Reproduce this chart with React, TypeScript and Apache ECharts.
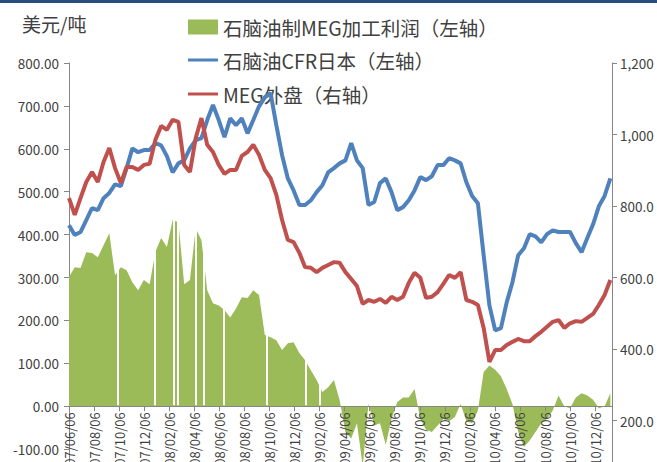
import React, { useEffect, useRef } from "react";
import * as echarts from "echarts";

// ---- Data ----
const START_DATE = "2007-06-06";
const SAMPLE_STEP_DAYS = 14; // one sample every two weeks, starting at START_DATE

const tickLabels = [
  "2007/06/06", "2007/08/06", "2007/10/06", "2007/12/06",
  "2008/02/06", "2008/04/06", "2008/06/06", "2008/08/06", "2008/10/06", "2008/12/06",
  "2009/02/06", "2009/04/06", "2009/06/06", "2009/08/06", "2009/10/06", "2009/12/06",
  "2010/02/06", "2010/04/06", "2010/06/06", "2010/08/06", "2010/10/06", "2010/12/06",
];

// 石脑油CFR日本（左轴） USD/t
const naphthaCFR = [
  422, 399, 406, 434, 462, 457, 485, 497, 517, 513,
  555, 601, 592, 597, 597, 613, 608, 583, 545, 566,
  573, 601, 620, 625, 667, 702, 667, 627, 671, 655,
  671, 636, 667, 699, 720, 730, 655, 585, 531, 503,
  469, 469, 480, 499, 515, 545, 555, 566, 573, 613,
  573, 555, 469, 476, 520, 531, 499, 457, 464, 480,
  503, 534, 527, 536, 562, 562, 578, 573, 566, 522,
  490, 473, 352, 235, 177, 182, 242, 289, 352, 368,
  401, 396, 382, 401, 410, 406, 406, 406, 380, 359,
  392, 424, 466, 490, 531,
];

// MEG外盘（右轴） USD/t
const megPrice = [
  822, 775, 822, 867, 895, 867, 923, 962, 906, 864,
  909, 909, 901, 915, 918, 985, 1024, 1013, 1041, 1035,
  915, 895, 990, 1046, 971, 951, 915, 890, 901, 901,
  940, 951, 971, 943, 901, 878, 831, 761, 705, 699,
  669, 629, 627, 615, 627, 635, 643, 641, 615, 596,
  576, 526, 537, 532, 540, 529, 546, 537, 546, 585,
  613, 599, 543, 546, 559, 582, 607, 599, 615, 537,
  532, 523, 459, 364, 397, 397, 411, 420, 428, 422,
  422, 436, 448, 462, 476, 481, 459, 472, 478, 476,
  487, 498, 523, 551, 593,
];

// 石脑油制MEG加工利润（左轴） USD/t
const megMargin = [
  301, 324, 322, 359, 357, 347, 375, 403, 305, 324,
  317, 289, 270, 294, 284, 360, 392, 371, 434, 429,
  284, 294, 415, 387, 270, 240, 235, 224, 207, 228,
  254, 252, 270, 259, 166, 161, 154, 131, 147, 149,
  124, 107, 84, 61, 33, 44, 61, 14, -60, -75,
  -40, -140, 5, -45, -40, -90, -30, 10, 20, 20,
  40, -30, -55, -60, -45, -30, -35, -25, 5, -35,
  -40, -10, 80, 95, 85, 70, 40, 5, -60, -95,
  -80, -60, -40, -30, -10, 25, 0, -5, 20, 30,
  25, 15, -5, 0, 30,
];

// days with no margin value (white gaps in the green area)
const marginGapDates = [
  "2007-10-03", "2008-01-01", "2008-02-15", "2008-02-25", "2008-04-08",
  "2008-04-29", "2008-06-17", "2008-09-28", "2009-01-01", "2009-02-05",
];

const rightAxisLabels: Record<number, string> = {
  200: "200.0", 400: "400.0", 600: "600.0", 800: "800.0", 1000: "1,000", 1200: "1,200",
};

const seriesNames = ["石脑油制MEG加工利润（左轴）", "石脑油CFR日本（左轴）", "MEG外盘（右轴）"];

// ---- helpers ----
const DAY_MS = 86400000;
const toUTC = (s: string) => {
  const [y, m, d] = s.replace(/\//g, "-").split("-").map(Number);
  return Date.UTC(y, m - 1, d);
};
const dayOf = (s: string) => Math.round((toUTC(s) - toUTC(START_DATE)) / DAY_MS);
const TICK_INTERVAL = dayOf(tickLabels[tickLabels.length - 1]) / (tickLabels.length - 1);
const X_MAX = 1320;

const LEFT_MIN = -200;
const LEFT_MAX = 800;
const GRID_TOP = 63;
const GRID_HEIGHT = 429;
// the date axis sits on the left axis' zero line
const X_AXIS_OFFSET = -(GRID_HEIGHT * (0 - LEFT_MIN)) / (LEFT_MAX - LEFT_MIN);

const FONT = "'Noto Sans CJK SC', 'Noto Sans', sans-serif";
const TEXT = "#404040";
const AXIS = "#868686";

export default function App() {
  const ref = useRef<HTMLDivElement>(null);
  useEffect(() => {
    if (!ref.current) return;
    const chart = echarts.init(ref.current, null, { renderer: "svg" });
    const pts = (arr: number[]) => arr.map((v, i) => [i * SAMPLE_STEP_DAYS, v]);
    const legendBase = {
      orient: "vertical" as const,
      left: 188,
      padding: 0,
      itemWidth: 30,
      icon: "rect",
      selectedMode: false,
      textStyle: { fontSize: 19.5, color: TEXT, fontFamily: FONT, lineHeight: 20 },
    };
    chart.setOption({
      animation: false,
      backgroundColor: "#ffffff",
      textStyle: { fontFamily: FONT },
      graphic: [
        { type: "rect", left: 0, top: 0, shape: { width: 657, height: 3 }, style: { fill: "#2B4C7E" } },
        {
          type: "text", left: 22, top: 14,
          style: { text: "美元/吨", fontSize: 19, fill: TEXT, fontFamily: FONT },
        },
      ],
      legend: [
        { ...legendBase, top: 17, itemHeight: 15, data: [seriesNames[0]] },
        { ...legendBase, top: 50, itemHeight: 3, data: [seriesNames[1]] },
        { ...legendBase, top: 84, itemHeight: 3, data: [seriesNames[2]] },
      ],
      grid: {
        left: 69, right: 45, top: GRID_TOP, height: GRID_HEIGHT,
        containLabel: false, outerBoundsMode: "none",
      },
      xAxis: {
        type: "value",
        position: "bottom",
        offset: X_AXIS_OFFSET,
        z: 20,
        min: 0,
        max: X_MAX,
        interval: TICK_INTERVAL,
        splitLine: { show: false },
        axisLine: { show: true, onZero: false, lineStyle: { color: AXIS, width: 1 } },
        axisTick: { show: true, inside: false, length: 5, lineStyle: { color: AXIS } },
        axisLabel: {
          rotate: 90,
          margin: 6,
          fontSize: 13,
          color: TEXT,
          fontFamily: FONT,
          formatter: (v: number) => tickLabels[Math.round(v / TICK_INTERVAL)] ?? "",
        },
      },
      yAxis: [
        {
          type: "value",
          position: "left",
          min: LEFT_MIN,
          max: LEFT_MAX,
          interval: 100,
          splitLine: { show: false },
          axisLine: { show: true, lineStyle: { color: AXIS, width: 1 } },
          axisTick: { show: true, length: 5, lineStyle: { color: AXIS } },
          axisLabel: {
            margin: 10,
            fontSize: 13.5,
            color: TEXT,
            fontFamily: FONT,
            formatter: (v: number) => (v < -100 ? "" : v.toFixed(2)),
          },
        },
        {
          type: "value",
          position: "right",
          min: 0,
          max: 1200,
          interval: 200,
          splitLine: { show: false },
          axisLine: { show: true, lineStyle: { color: AXIS, width: 1 } },
          axisTick: { show: true, length: 5, lineStyle: { color: AXIS } },
          axisLabel: {
            margin: 8,
            fontSize: 13.5,
            color: TEXT,
            fontFamily: FONT,
            formatter: (v: number) => rightAxisLabels[v] ?? "",
          },
        },
      ],
      series: [
        {
          name: seriesNames[0],
          type: "line",
          yAxisIndex: 0,
          data: pts(megMargin),
          color: "#9BBB59",
          symbol: "none",
          lineStyle: { width: 0 },
          areaStyle: { color: "#9BBB59", opacity: 1 },
          z: 2,
          markLine: {
            silent: true,
            z: 3,
            symbol: ["none", "none"],
            label: { show: false },
            lineStyle: { color: "#ffffff", width: 2, type: "solid" },
            data: marginGapDates.map((d) => [{ coord: [dayOf(d), 2] }, { coord: [dayOf(d), 500] }]),
          },
        },
        {
          name: seriesNames[1],
          type: "line",
          yAxisIndex: 0,
          data: pts(naphthaCFR),
          color: "#4F81BD",
          symbol: "none",
          lineStyle: { width: 4, color: "#4F81BD" },
          z: 10,
        },
        {
          name: seriesNames[2],
          type: "line",
          yAxisIndex: 1,
          data: pts(megPrice),
          color: "#C0504D",
          symbol: "none",
          lineStyle: { width: 4, color: "#C0504D" },
          z: 11,
        },
      ],
    });
    return () => chart.dispose();
  }, []);
  return (
    <div
      ref={ref}
      style={{ position: "fixed", left: 0, top: 0, width: 657, height: 462, background: "#fff" }}
    />
  );
}
